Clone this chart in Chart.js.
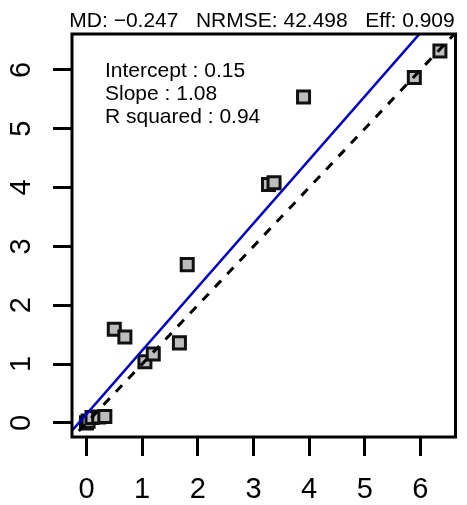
<!DOCTYPE html>
<html>
<head>
<meta charset="utf-8">
<title>Observed vs simulated</title>
<script src="https://cdn.jsdelivr.net/npm/chart.js@4.4.1/dist/chart.umd.min.js"></script>
<style>
  html, body { margin: 0; padding: 0; background: #fff; }
  #plot { display: block; }
</style>
</head>
<body>
<canvas id="plot" width="467" height="505"></canvas>
<script>
// observed (x) and simulated (y) values
const obsValues = [0.00, 0.03, 0.10, 0.22, 0.33, 0.50, 0.69, 1.05, 1.20, 1.67, 1.81, 3.27, 3.37, 3.90, 5.89, 6.35];
const simValues = [0.00, 0.03, 0.09, 0.10, 0.11, 1.59, 1.46, 1.04, 1.17, 1.36, 2.69, 4.05, 4.08, 5.54, 5.87, 6.32];

// regression fit
const fitIntercept = 0.15;
const fitSlope = 1.08;
const fitRSquared = 0.94;

// goodness-of-fit stats for the header
const statNames = ['MD', 'NRMSE', 'Eff'];
const statValues = ['\u22120.247', '42.498', '0.909'];

// axes
const xLimits = [-0.26, 6.63];
const yLimits = [-0.24, 6.61];
const tickValues = [0, 1, 2, 3, 4, 5, 6];
const tickLabels = ['0', '1', '2', '3', '4', '5', '6'];

const FONT = '"Liberation Sans", Arial, sans-serif';

const points = obsValues.map((x, i) => ({ x: x, y: simValues[i] }));
const lineEnds = [xLimits[0] - 0.1, xLimits[1] + 0.1];
const fitLine = lineEnds.map(x => ({ x: x, y: fitIntercept + fitSlope * x }));
const oneToOne = lineEnds.map(x => ({ x: x, y: x }));

// box, rotated R-style tick labels, header and fit text
const decorations = {
  id: 'decorations',
  afterDatasetsDraw(chart) {
    const { ctx, chartArea: a } = chart;
    ctx.save();
    ctx.strokeStyle = '#000';
    ctx.lineWidth = 3;
    ctx.strokeRect(a.left, a.top, a.right - a.left, a.bottom - a.top);
    ctx.restore();
  },
  afterDraw(chart) {
    const { ctx, chartArea: a, scales } = chart;
    ctx.save();
    ctx.fillStyle = '#000';

    // x tick labels
    ctx.font = '29px ' + FONT;
    ctx.textAlign = 'center';
    ctx.textBaseline = 'middle';
    tickValues.forEach((v, i) => {
      ctx.fillText(tickLabels[i], scales.x.getPixelForValue(v), 490);
    });

    // y tick labels, parallel to the axis
    tickValues.forEach((v, i) => {
      ctx.save();
      ctx.translate(22, scales.y.getPixelForValue(v));
      ctx.rotate(-Math.PI / 2);
      ctx.fillText(tickLabels[i], 0, 0);
      ctx.restore();
    });

    // header line
    ctx.font = '21px ' + FONT;
    ctx.textBaseline = 'alphabetic';
    const header = statNames.map((n, i) => n + ': ' + statValues[i]).join('   ');
    ctx.fillText(header, 262, 27);

    // regression text
    ctx.textAlign = 'left';
    const lines = [
      'Intercept : ' + fitIntercept.toFixed(2),
      'Slope : ' + fitSlope.toFixed(2),
      'R squared : ' + fitRSquared.toFixed(2)
    ];
    lines.forEach((t, i) => ctx.fillText(t, 105, 77 + i * 23));
    ctx.restore();
  }
};

const tickGrid = {
  display: true,
  drawOnChartArea: false,
  drawTicks: true,
  tickLength: 19,
  tickWidth: 3,
  tickColor: '#000'
};

new Chart(document.getElementById('plot').getContext('2d'), {
  type: 'scatter',
  data: {
    datasets: [
      {
        label: '1:1',
        data: oneToOne,
        showLine: true,
        borderColor: '#000',
        borderWidth: 3,
        borderDash: [9, 9],
        pointRadius: 0,
        order: 0
      },
      {
        label: 'fit',
        data: fitLine,
        showLine: true,
        borderColor: '#0000cc',
        borderWidth: 2.5,
        pointRadius: 0,
        order: 0
      },
      {
        label: 'obs vs sim',
        data: points,
        pointStyle: 'rect',
        pointRadius: 8.5,
        pointBorderWidth: 3,
        pointBackgroundColor: '#bdbdbd',
        pointBorderColor: '#111',
        order: 1
      }
    ]
  },
  options: {
    responsive: false,
    animation: false,
    layout: { padding: { top: 34, right: 8, left: 0, bottom: 0 } },
    plugins: {
      legend: { display: false },
      tooltip: { enabled: false },
      title: { display: false }
    },
    scales: {
      x: {
        type: 'linear',
        min: xLimits[0],
        max: xLimits[1],
        afterBuildTicks: (s) => { s.ticks = tickValues.map(v => ({ value: v })); },
        afterFit: (s) => { s.height = 68; },
        grid: tickGrid,
        border: { display: false },
        ticks: { display: false }
      },
      y: {
        type: 'linear',
        min: yLimits[0],
        max: yLimits[1],
        afterBuildTicks: (s) => { s.ticks = tickValues.map(v => ({ value: v })); },
        afterFit: (s) => { s.width = 72; },
        grid: tickGrid,
        border: { display: false },
        ticks: { display: false }
      }
    }
  },
  plugins: [decorations]
});
</script>
</body>
</html>
